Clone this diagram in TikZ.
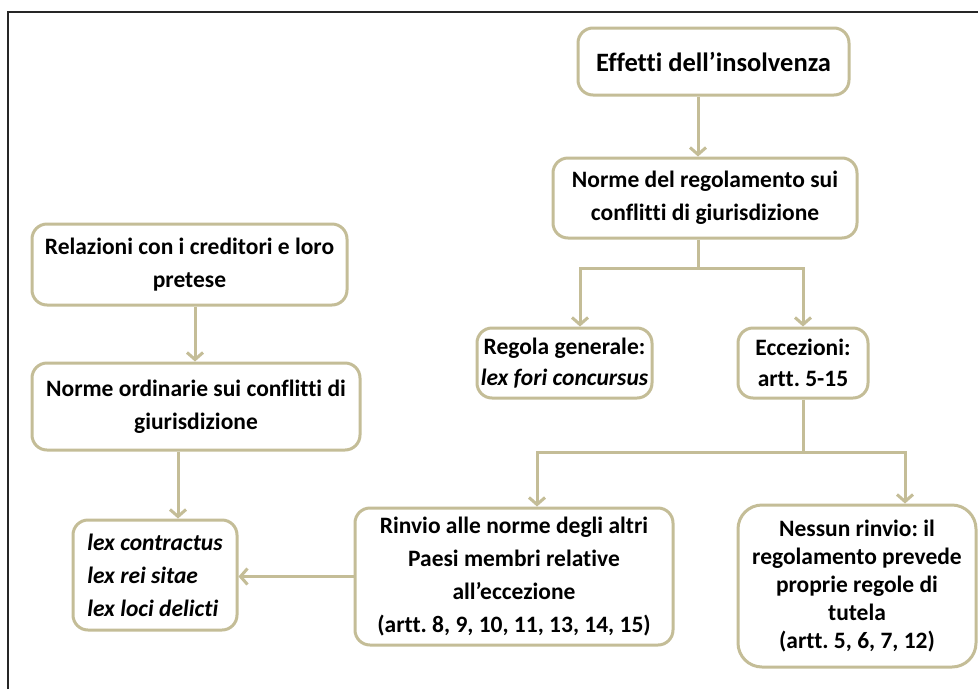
\documentclass[tikz,border=0pt]{standalone}
\usepackage{fontspec}
\setmainfont{Carlito}[Ligatures=NoCommon]
\usetikzlibrary{arrows.meta}
\definecolor{boxtan}{RGB}{196,189,151}
\frenchspacing
\begin{document}
\begin{tikzpicture}[x=1pt,y=-1pt,
  box/.style={draw=boxtan, line width=3pt, rounded corners=15pt, fill=white,
    align=center, inner sep=0pt, font=\bfseries\fontsize{23.5}{33}\selectfont},
  ln/.style={draw=boxtan, line width=3pt},
  arr/.style={ln, -{Straight Barb[length=7pt,width=16pt]}}]
\useasboundingbox (0,0) rectangle (978,689);
\fill[white] (0,0) rectangle (978,689);
\draw[line width=2pt, black!85] (8,689) -- (8,12) -- (978,12);

\node[box, minimum width=271pt, minimum height=67pt, font=\bfseries\fontsize{26.5}{30}\selectfont] (B1) at (713.5,61.5) {Effetti dell’insolvenza};
\node[box, minimum width=304pt, minimum height=80pt] (B2) at (705,198) {Norme del regolamento sui\\conflitti di giurisdizione};
\node[box, minimum width=315pt, minimum height=81pt] (B3) at (189.5,264.5) {Relazioni con i creditori e loro\\pretese};
\node[box, minimum width=328pt, minimum height=87pt] (B4) at (196,406.5) {Norme ordinarie sui conflitti di\\giurisdizione};
\node[box, minimum width=164pt, minimum height=110pt, align=left, font=\bfseries\itshape\fontsize{23.5}{33}\selectfont] (B5) at (155,575) {lex contractus\\lex rei sitae\\lex loci delicti};
\node[box, minimum width=175pt, minimum height=70pt, font=\bfseries\fontsize{23.5}{31}\selectfont] (B6) at (564.5,363) {Regola generale:\\\textit{lex fori concursus}};
\node[box, minimum width=130pt, minimum height=70pt, font=\bfseries\fontsize{23.5}{31}\selectfont] (B7) at (803,363) {Eccezioni:\\artt. 5-15};
\node[box, minimum width=318pt, minimum height=137pt] (B8) at (514,576.5) {Rinvio alle norme degli altri\\Paesi membri relative\\all’eccezione\\(artt. 8, 9, 10, 11, 13, 14, 15)};
\node[box, minimum width=238pt, minimum height=162pt, rounded corners=24pt, font=\bfseries\fontsize{23.5}{28}\selectfont] (B9) at (857,586) {Nessun rinvio: il\\regolamento prevede\\proprie regole di\\tutela\\(artt. 5, 6, 7, 12)};

\coordinate (s1) at (698,268);
\coordinate (a6) at (580,268);
\coordinate (s2) at (803,452);
\coordinate (a8) at (537,452);
\coordinate (a9) at (905,452);
\coordinate (x3) at (195,0);
\coordinate (x4) at (178,0);

\draw[arr] (B1.south -| s1) -- (B2.north -| s1);
\draw[ln] (B2.south -| s1) -- (s1);
\draw[arr] (s1) -| (B6.north -| a6);
\draw[arr] (s1) -| (B7.north);
\draw[ln] (B7.south) -- (s2);
\draw[arr] (s2) -| (B8.north -| a8);
\draw[arr] (s2) -| (B9.north -| a9);
\draw[arr] (B3.south -| x3) -- (B4.north -| x3);
\draw[arr] (B4.south -| x4) -- (B5.north -| x4);
\draw[arr] (B8.west) -- (B8.west -| B5.east);
\end{tikzpicture}
\end{document}
